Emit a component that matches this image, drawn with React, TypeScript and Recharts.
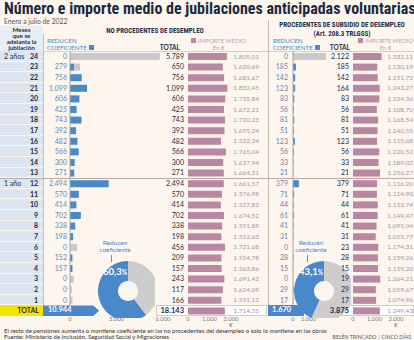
import { BarChart, Bar, XAxis, YAxis, PieChart, Pie, Cell } from "recharts";

// Meses que se adelanta la jubilación (de 24 a 1)
const MESES = ["24", "23", "22", "21", "20", "19", "18", "17", "16", "15", "14", "13", "12", "11", "10", "9", "8", "7", "6", "5", "4", "3", "2", "1"];
const ANIOS: Record<string, string> = { "24": "2 años", "12": "1 año" };

// No procedentes de desempleo
const NP_REDUCEN = [0, 279, 756, 1099, 606, 425, 743, 392, 482, 566, 300, 271, 2494, 570, 414, 702, 338, 198, 0, 152, 157, 0, 0, 0];
const NP_TOTAL = [5789, 650, 756, 1099, 606, 425, 743, 392, 482, 566, 300, 271, 2494, 570, 414, 702, 338, 198, 456, 209, 157, 243, 117, 166];
const NP_IMPORTE = [1809.01, 1620.69, 1681.67, 1832.45, 1735.84, 1672.21, 1720.23, 1695.24, 1532.34, 1765.04, 1637.94, 1664.21, 1661.57, 1576.98, 1527.82, 1674.52, 1591.89, 1552.63, 1721.68, 1554.78, 1563.86, 1691.42, 1624.09, 1551.12];
const NP_SUMA = [10944, 18143, 1714.55]; // reducen, total, importe medio

// Procedentes de subsidio de desempleo
const P_REDUCEN = [0, 185, 142, 123, 83, 56, 81, 51, 123, 56, 33, 21, 379, 71, 44, 61, 41, 31, 0, 28, 15, 0, 29, 17];
const P_TOTAL = [2122, 185, 142, 164, 83, 56, 81, 51, 123, 56, 33, 21, 379, 71, 44, 61, 41, 31, 23, 28, 15, 19, 29, 17];
const P_IMPORTE = [1332.11, 1130.19, 1151.72, 1243.27, 1224.36, 1108.7, 1168.54, 1140.55, 1115.68, 1220.52, 1189.02, 1256.27, 1116.2, 1114.9, 1152.74, 1149.47, 1095.04, 1055.77, 1174.31, 1159.26, 1159.2, 1264.21, 1059.67, 1074.96];
const P_SUMA = [1670, 3875, 1249.43];

const TOP = 51;
const FILA = 10.6;
const ALTO = FILA * 25;
const EJE = 12;

const AZUL = "#4a88cc";
const GRIS = "#c9c9c9";
const MALVA = "#b9879f";
const TINTA = "#1f2d47";
const FUENTE = "Lato, 'Open Sans', sans-serif";
const ESTRECHA = "'Liberation Sans Narrow', 'Roboto Condensed', Roboto, sans-serif";

const miles = (n: number) => String(Math.round(n)).replace(/\B(?=(\d{3})+(?!\d))/g, ".");
const euros = (n: number) => {
  const [e, d] = n.toFixed(2).split(".");
  return `${miles(Number(e))},${d}`;
};
const pct = (a: number, b: number) => ((a / b) * 100).toFixed(1).replace(".", ",");

type Fila = { mes: string; reducen: number | null; resto: number | null; total: number; importe: number };

function filas(reducen: number[], total: number[], importe: number[], suma: number[]): Fila[] {
  const out: Fila[] = MESES.map((mes, i) => ({
    mes,
    reducen: reducen[i],
    resto: total[i] - reducen[i],
    total: total[i],
    importe: importe[i],
  }));
  out.push({ mes: "TOTAL", reducen: null, resto: null, total: suma[1], importe: suma[2] });
  return out;
}

const NP = filas(NP_REDUCEN, NP_TOTAL, NP_IMPORTE, NP_SUMA);
const P = filas(P_REDUCEN, P_TOTAL, P_IMPORTE, P_SUMA);

const buscar = (datos: Fila[], mes: string) => datos.find((f) => f.mes === mes) as Fila;

function TickMeses(props: any) {
  const f = buscar(NP, props.payload.value);
  if (f.mes === "TOTAL") return <g />;
  return (
    <g fontFamily={FUENTE}>
      {ANIOS[f.mes] && (
        <text x={4} y={props.y} dy={2.5} fontSize={7} fill={TINTA}>
          {ANIOS[f.mes]}
        </text>
      )}
      <text x={38} y={props.y} dy={2.5} textAnchor="end" fontSize={7} fontWeight={700} fill={TINTA}>
        {f.mes}
      </text>
      <text x={props.x} y={props.y} dy={2.5} textAnchor="end" fontSize={7} fill="#6d87aa">
        {miles(f.reducen ?? 0)}
      </text>
    </g>
  );
}

function TickReducen(props: any) {
  const f = buscar(P, props.payload.value);
  if (f.mes === "TOTAL") return <g />;
  return (
    <text x={props.x} y={props.y} dy={2.5} textAnchor="end" fontSize={7} fill="#6d87aa" fontFamily={FUENTE}>
      {miles(f.reducen ?? 0)}
    </text>
  );
}

function TickTotal(datos: Fila[]) {
  return (props: any) => {
    const f = buscar(datos, props.payload.value);
    const fuerte = f.mes === "TOTAL";
    return (
      <text x={props.x} y={props.y} dy={2.5} textAnchor="end" fontSize={fuerte ? 7.5 : 7} fontWeight={fuerte ? 700 : 400} fill={TINTA} fontFamily={FUENTE}>
        {miles(f.total)}
      </text>
    );
  };
}

function TickImporte(datos: Fila[], dx: number) {
  return (props: any) => {
    const f = buscar(datos, props.payload.value);
    return (
      <text x={props.x + dx} y={props.y} dy={2.3} textAnchor="end" fontSize={6.5} fill="#a3969f" fontFamily={FUENTE}>
        {euros(f.importe)}
      </text>
    );
  };
}

const ejeX = { axisLine: false, tickLine: false, tickSize: 0, tickMargin: 1, height: EJE, interval: 0 as const, tick: { fontSize: 5.8, fill: "#7a7a7a", fontFamily: FUENTE } };

function Reducen({ datos, left, ejeAncho, ancho, max, ticks, tick, margen }: any) {
  return (
    <div style={{ position: "absolute", left, top: TOP }}>
      <BarChart width={ejeAncho + ancho + 12} height={ALTO + EJE} data={datos} layout="vertical" margin={{ top: 0, right: 12, bottom: 0, left: 0 }} barCategoryGap={0}>
        <XAxis type="number" domain={[0, max]} ticks={ticks} tickFormatter={miles} {...ejeX} />
        <YAxis type="category" dataKey="mes" width={ejeAncho} axisLine={{ stroke: "#a8a8a8" }} tickLine={false} tickSize={0} tickMargin={margen} tick={tick} interval={0} />
        <Bar dataKey="reducen" stackId="a" fill={AZUL} barSize={7} isAnimationActive={false} />
        <Bar dataKey="resto" stackId="a" fill={GRIS} barSize={7} isAnimationActive={false} />
      </BarChart>
    </div>
  );
}

function Importe({ datos, left, izq, der }: any) {
  const ancho = 43;
  return (
    <div style={{ position: "absolute", left, top: TOP }}>
      <BarChart width={izq + ancho + der} height={ALTO + EJE} data={datos} layout="vertical" margin={{ top: 0, right: 0, bottom: 0, left: 0 }} barCategoryGap={0}>
        <XAxis type="number" domain={[0, 2000]} ticks={[0, 1000, 2000]} tickFormatter={(v: number) => (v === 2000 ? "2.000 €" : miles(v))} {...ejeX} />
        <YAxis yAxisId="l" type="category" dataKey="mes" width={izq} axisLine={false} tickLine={false} tickSize={0} tickMargin={4} tick={TickTotal(datos)} interval={0} />
        <YAxis yAxisId="r" orientation="right" type="category" dataKey="mes" width={der} axisLine={false} tickLine={false} tickSize={0} tickMargin={0} tick={TickImporte(datos, der - 1)} interval={0} />
        <Bar yAxisId="l" dataKey="importe" fill={MALVA} barSize={7} isAnimationActive={false} />
      </BarChart>
    </div>
  );
}

function Dona({ cx, cy, suma }: { cx: number; cy: number; suma: number[] }) {
  const datos = [
    { n: "reducen", v: suma[0] },
    { n: "resto", v: suma[1] - suma[0] },
  ];
  return (
    <>
      <div style={{ position: "absolute", left: cx - 32, top: cy - 32 }}>
        <PieChart width={64} height={64}>
          <Pie data={datos} dataKey="v" cx={32} cy={32} innerRadius={10} outerRadius={30} startAngle={90} endAngle={450} stroke="none" isAnimationActive={false}>
            <Cell fill={AZUL} />
            <Cell fill="#cdcdcd" />
          </Pie>
        </PieChart>
      </div>
      <div style={{ position: "absolute", left: cx - 20, top: cy - 20, fontSize: 9.5, lineHeight: "11px", fontWeight: 700, color: "#fff", whiteSpace: "nowrap" }}>
        {pct(suma[0], suma[1])}
        <span style={{ fontSize: 6.5 }}>%</span>
      </div>
      <div style={{ position: "absolute", left: cx - 30, top: cy - 47, width: 44, textAlign: "center", fontSize: 6.5, lineHeight: "7px", color: AZUL }}>
        Reducen
        <br />
        coeficiente
      </div>
      <div style={{ position: "absolute", left: cx - 12, top: cy - 31, width: 1, height: 7, background: "#8a8a8a" }} />
    </>
  );
}

const abs = (s: React.CSSProperties): React.CSSProperties => ({ position: "absolute", ...s });

function Cabecera({ left, ancho, totalLeft }: { left: number; ancho: number; totalLeft: number }) {
  return (
    <>
      <div style={abs({ left, top: 37, fontSize: 6.3, lineHeight: "7px", color: AZUL, whiteSpace: "nowrap" })}>
        REDUCEN
        <br />
        COEFICIENTE <span style={{ display: "inline-block", width: 5, height: 5, background: AZUL }} />
      </div>
      <div style={abs({ left: totalLeft, top: 44, width: 22, textAlign: "right", fontSize: 6.5, lineHeight: "7px", fontWeight: 700, color: TINTA })}>TOTAL</div>
      <div style={abs({ left: left + ancho, top: 37, width: 55, textAlign: "center", fontSize: 6, lineHeight: "7px", color: "#c79bb5", whiteSpace: "nowrap" })}>
        <span style={{ display: "inline-block", width: 5, height: 5, background: MALVA, marginRight: 2 }} />
        IMPORTE MEDIO
        <br />
        En €
      </div>
    </>
  );
}

export default function App() {
  return (
    <div style={{ position: "relative", width: 414, height: 340, background: "#fdf6ef", overflow: "hidden", fontFamily: FUENTE, color: TINTA }}>
      <style>{`body{margin:0}`}</style>

      <div style={abs({ left: 4, top: 1, fontSize: 16, lineHeight: "16px", fontWeight: 700, whiteSpace: "nowrap", fontFamily: ESTRECHA, color: "#1c2a3d" })}>
        Número e importe medio de jubilaciones anticipadas voluntarias
      </div>
      <div style={abs({ left: 4, top: 18, fontSize: 6.8, lineHeight: "7.5px", color: "#555" })}>Enero a julio de 2022</div>

      {/* columna de meses */}
      <div style={abs({ left: 0, top: 26, width: 43, height: 25, background: "#e6edf5" })} />
      <div style={abs({ left: 0, top: 27, width: 43, textAlign: "center", fontSize: 6.2, lineHeight: "6px", fontWeight: 700 })}>
        Meses
        <br />
        que se
        <br />
        adelanta la
        <br />
        jubilación
      </div>
      {MESES.map((m, i) => (
        <div key={m} style={abs({ left: 0, top: TOP + i * FILA, width: 43, height: FILA - 1, background: "#dce6f1" })} />
      ))}

      <div style={abs({ left: 60, top: 27, width: 190, textAlign: "center", fontSize: 7, fontWeight: 700, fontFamily: ESTRECHA })}>NO PROCEDENTES DE DESEMPLEO</div>
      <div style={abs({ left: 270, top: 21, width: 144, textAlign: "center", fontSize: 7, lineHeight: "8.5px", fontWeight: 700, fontFamily: ESTRECHA, whiteSpace: "nowrap" })}>
        PROCEDENTES DE SUBSIDIO DE DESEMPLEO
        <br />
        (Art. 208.3 TRLGSS)
      </div>
      <Cabecera left={47} ancho={144} totalLeft={158} />
      <Cabecera left={273} ancho={85} totalLeft={328} />

      {/* líneas */}
      <div style={abs({ left: 43, top: 51, width: 371, height: 1, background: "#d9cdc4" })} />
      <div style={abs({ left: 43, top: 34, width: 1, height: 282, background: "#cdbfb5" })} />
      <div style={abs({ left: 268, top: 20, width: 1, height: 296, background: "#c4b8ae" })} />
      <div style={abs({ left: 0, top: TOP + 12 * FILA - 0.5, width: 414, height: 1, background: "#b9aca3" })} />

      {/* fila de totales */}
      <div style={abs({ left: 156, top: TOP + 24 * FILA, width: 111, height: FILA, background: "#fff", border: "1px solid #d2cbc6", boxSizing: "border-box" })} />
      <div style={abs({ left: 330, top: TOP + 24 * FILA, width: 84, height: FILA, background: "#fff", border: "1px solid #d2cbc6", boxSizing: "border-box" })} />

      <Reducen datos={NP} left={0} ejeAncho={70} ancho={93} max={6000} ticks={[0, 3000, 6000]} tick={TickMeses} margen={3} />
      <Reducen datos={P} left={268} ejeAncho={25} ancho={46.5} max={3000} ticks={[0, 1000]} tick={TickReducen} margen={5} />

      <div style={abs({ left: 0, top: TOP + 24 * FILA, width: 43, height: FILA, background: "#f2e500", textAlign: "right", fontSize: 7, lineHeight: `${FILA}px`, fontWeight: 700, paddingRight: 4, boxSizing: "border-box" })}>TOTAL</div>
      <div style={abs({ left: 43, top: TOP + 24 * FILA, width: 56, height: FILA, background: AZUL, clipPath: "polygon(0 0, 90% 0, 100% 50%, 90% 100%, 0 100%)", color: "#fff", fontSize: 7.5, lineHeight: `${FILA}px`, fontWeight: 700, paddingLeft: 5, boxSizing: "border-box" })}>
        {miles(NP_SUMA[0])}
      </div>
      <div style={abs({ left: 268, top: TOP + 24 * FILA, width: 36, height: FILA, background: AZUL, color: "#fff", fontSize: 7.5, lineHeight: `${FILA}px`, fontWeight: 700, paddingLeft: 4, boxSizing: "border-box" })}>
        {miles(P_SUMA[0])}
      </div>

      <Dona cx={123} cy={286} suma={NP_SUMA} />
      <Dona cx={319} cy={286} suma={P_SUMA} />

      <Importe datos={NP} left={150} izq={38} der={29} />
      <Importe datos={P} left={330} izq={23} der={18} />

      <div style={abs({ left: 4, top: 327.5, fontSize: 6, lineHeight: "6.2px", whiteSpace: "nowrap", color: "#333" })}>
        El resto de pensiones aumenta o mantiene coeficiente en las no procedentes del desempleo o solo lo mantiene en las obras
        <br />
        Fuente: Ministerio de Inclusión, Seguridad Social y Migraciones
      </div>
      <div style={abs({ right: 3, top: 333.7, fontSize: 5.2, lineHeight: "6.2px", color: "#555" })}>BELÉN TRINCADO / CINCO DÍAS</div>
    </div>
  );
}
